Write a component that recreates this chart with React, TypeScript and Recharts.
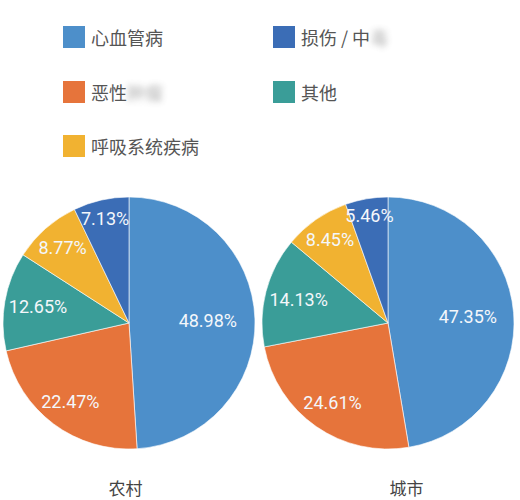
import React from "react"
import { PieChart, Pie, Cell } from "recharts"

// legend order: 心血管病, 损伤/中毒, 恶性肿瘤, 其他, 呼吸系统疾病
const causes = ["心血管病", "恶性肿瘤", "其他", "呼吸系统疾病", "损伤 / 中毒"]
const colors = ["#4d8fca", "#e6743b", "#3a9d98", "#f1b231", "#3b6db6"]
const ruralValues = [48.98, 22.47, 12.65, 8.77, 7.13]
const urbanValues = [47.35, 24.61, 14.13, 8.45, 5.46]
const groups = ["农村", "城市"]

const RADIAN = Math.PI / 180
const LABEL_FONT = 18

// push small slices' labels outwards, but keep the text box inside the circle
const renderLabel = ({ cx, cy, midAngle, outerRadius, value, percent }: any) => {
  const text = `${value.toFixed(2)}%`
  const hw = text.length * LABEL_FONT * 0.27
  const hh = LABEL_FONT * 0.42
  const ux = Math.cos(-midAngle * RADIAN)
  const uy = Math.sin(-midAngle * RADIAN)
  let d = outerRadius * (0.92 - 0.6 * percent)
  const fits = (dd: number) =>
    [-1, 1].every((sx) =>
      [-1, 1].every((sy) => Math.hypot(dd * ux + sx * hw, dd * uy + sy * hh) <= outerRadius - 3)
    )
  while (d > 0 && !fits(d)) d -= 1
  return (
    <text
      x={cx + d * ux}
      y={cy + d * uy}
      fill="#f4f7fb"
      textAnchor="middle"
      dominantBaseline="central"
      fontSize={LABEL_FONT}
      fontFamily="Roboto, 'Noto Sans', sans-serif"
    >
      {text}
    </text>
  )
}

const blurred = { filter: "blur(3px)", opacity: 0.45 }

const legendRows = [
  [0, 4],
  [1, 2],
  [3],
]

const legendLabel = (i: number) => {
  if (i === 4)
    return (
      <>
        损伤 / 中<span style={blurred}>毒</span>
      </>
    )
  if (i === 1)
    return (
      <>
        恶性<span style={blurred}>肿瘤</span>
      </>
    )
  return causes[i]
}

function PieBlock({ values, title, titleShift }: { values: number[]; title: string; titleShift: number }) {
  const data = causes.map((name, i) => ({ name, value: values[i] }))
  return (
    <div style={{ width: 259, height: 306, position: "relative" }}>
      <PieChart width={259} height={270} margin={{ top: 0, right: 0, bottom: 0, left: 0 }}>
        <Pie
          data={data}
          dataKey="value"
          nameKey="name"
          cx={129}
          cy={129}
          outerRadius={126}
          startAngle={90}
          endAngle={-270}
          stroke="#ffffff"
          strokeWidth={0.6}
          label={renderLabel}
          labelLine={false}
          isAnimationActive={false}
        >
          {data.map((d, i) => (
            <Cell key={d.name} fill={colors[i]} />
          ))}
        </Pie>
      </PieChart>
      <div
        style={{
          position: "absolute",
          top: 284,
          left: titleShift,
          width: 259,
          height: 20,
          lineHeight: "20px",
          textAlign: "center",
          fontSize: 17,
          color: "#444",
        }}
      >
        {title}
      </div>
    </div>
  )
}

export default function App() {
  return (
    <div
      style={{
        position: "absolute",
        left: 0,
        top: 0,
        width: 520,
        height: 500,
        background: "#fff",
        fontFamily: "'Noto Sans CJK SC', 'Noto Sans', sans-serif",
        overflow: "hidden",
      }}
    >
      <div style={{ position: "absolute", left: 63, top: 26 }}>
        {legendRows.map((row, ri) => (
          <div key={ri} style={{ display: "flex", height: 54.5 }}>
            {row.map((i) => (
              <div key={i} style={{ display: "flex", alignItems: "center", width: 210, height: 22 }}>
                <span style={{ width: 22, height: 22, background: colors[i], display: "inline-block" }} />
                <span style={{ marginLeft: 6, fontSize: 18, color: "#555", whiteSpace: "nowrap" }}>
                  {legendLabel(i)}
                </span>
              </div>
            ))}
          </div>
        ))}
      </div>
      <div style={{ position: "absolute", left: 0, top: 194, display: "flex" }}>
        <PieBlock values={ruralValues} title={groups[0]} titleShift={-4} />
        <PieBlock values={urbanValues} title={groups[1]} titleShift={18} />
      </div>
    </div>
  )
}
